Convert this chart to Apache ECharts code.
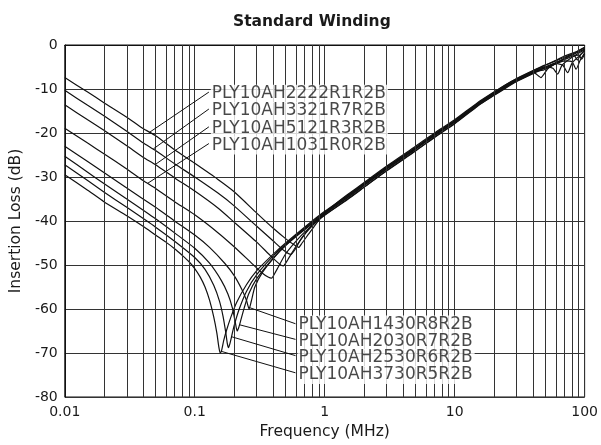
<!DOCTYPE html>
<html>
<head>
<meta charset="utf-8">
<script src="https://cdn.jsdelivr.net/npm/echarts@6/dist/echarts.min.js"></script>
<style>
html,body{margin:0;padding:0;background:#fff;}
#chart{width:601px;height:445px;}
</style>
</head>
<body>
<div id="chart"></div>
<script>
// ---- Data (frequency in MHz, insertion loss in dB) ----
const xTickLabels = ['0.01', '0.1', '1', '10', '100'];
const decadeStarts = [0.01, 0.1, 1, 10];
const minorMultipliers = [2, 3, 4, 5, 6, 7, 8, 9];

const seriesNames = [
  'PLY10AH2222R1R2B', 'PLY10AH3321R7R2B', 'PLY10AH5121R3R2B', 'PLY10AH1031R0R2B',
  'PLY10AH1430R8R2B', 'PLY10AH2030R7R2B', 'PLY10AH2530R6R2B', 'PLY10AH3730R5R2B'
];

const c2222R1 = [[0.01,-7.4],[0.015,-10.7],[0.02,-13.1],[0.03,-16.4],[0.04,-19],[0.05,-20.6],[0.07,-23.8],[0.1,-26.9],[0.15,-30.5],[0.2,-33.3],[0.3,-38.2],[0.4,-41.6],[0.5,-44],[0.58,-45.4],[0.63,-46],[0.67,-45],[0.75,-43],[0.85,-40.8],[1,-38.2],[1.2,-36.2],[1.5,-34],[2,-31.3],[3,-27.5],[5,-23],[7,-20],[10,-17],[15,-13.1],[20,-10.7],[25,-8.9],[30,-7.6],[40,-5.8],[50,-4.5],[60,-3.6],[70,-2.8],[85,-1.7],[100,-0.6]];
const c3321R7 = [[0.01,-10.3],[0.015,-13.7],[0.02,-16.1],[0.03,-19.6],[0.04,-22.2],[0.05,-24],[0.07,-27],[0.1,-30],[0.15,-33.6],[0.2,-36.5],[0.3,-41.2],[0.4,-44.5],[0.48,-46.6],[0.55,-47.6],[0.59,-46.5],[0.66,-44],[0.8,-40.9],[1,-38.1],[1.2,-36.4],[1.5,-34.2],[2,-31.6],[3,-27.8],[5,-23.3],[7,-20.3],[10,-17.3],[15,-13.4],[20,-11],[25,-9.2],[30,-7.9],[40,-6.1],[46,-7.4],[52,-5.4],[60,-4.2],[70,-3.1],[85,-1.9],[100,-0.9]];
const c5121R3 = [[0.01,-13.6],[0.015,-17],[0.02,-19.4],[0.03,-22.9],[0.04,-25.5],[0.05,-27.2],[0.07,-30.2],[0.1,-33.2],[0.15,-37],[0.2,-40.2],[0.3,-44.8],[0.38,-47.8],[0.45,-49.8],[0.48,-50.2],[0.52,-48.8],[0.6,-45.8],[0.75,-42],[1,-38.4],[1.5,-34.6],[2,-31.9],[3,-28.1],[5,-23.6],[7,-20.5],[10,-17.5],[15,-13.6],[20,-11.2],[25,-9.4],[30,-8.1],[40,-6.3],[50,-5],[60,-4.2],[68,-4.6],[74,-6.3],[80,-4.1],[90,-2.6],[100,-1.3]];
const c1031R0 = [[0.01,-18.9],[0.015,-22.3],[0.02,-24.7],[0.03,-28.2],[0.04,-30.8],[0.05,-32.6],[0.07,-35.6],[0.1,-38.6],[0.15,-42.6],[0.2,-45.8],[0.27,-49.4],[0.33,-51.8],[0.37,-52.8],[0.39,-53],[0.42,-51.5],[0.5,-47.5],[0.65,-43.5],[0.8,-41],[1,-38.7],[1.5,-35.1],[2,-32.4],[3,-28.6],[5,-24.1],[7,-21],[10,-17.9],[15,-13.9],[20,-11.5],[25,-9.7],[30,-8.3],[40,-6.5],[50,-5.2],[60,-4.3],[70,-3.6],[80,-3.8],[86,-5.5],[92,-3.6],[100,-1.8]];
const c1430R8 = [[0.01,-23],[0.015,-26.5],[0.02,-29],[0.03,-32.5],[0.05,-36.9],[0.07,-40],[0.1,-43.2],[0.13,-46],[0.17,-49.6],[0.2,-52.3],[0.23,-55.5],[0.25,-58],[0.262,-60],[0.272,-58.3],[0.29,-55],[0.33,-51.8],[0.4,-48.6],[0.5,-45.6],[0.7,-42],[1,-38.6],[1.5,-35],[2,-32.3],[3,-28.5],[5,-24],[7,-20.9],[10,-17.8],[15,-13.8],[20,-11.4],[25,-9.6],[30,-8.2],[40,-6.4],[50,-5],[60,-4],[70,-3.3],[80,-2.6],[90,-2.3],[95,-3.2],[100,-2]];
const c2030R7 = [[0.01,-25.3],[0.015,-28.9],[0.02,-31.5],[0.03,-35],[0.05,-39.5],[0.07,-42.7],[0.1,-46.2],[0.13,-49.6],[0.16,-53.5],[0.18,-56.6],[0.195,-59.8],[0.205,-63],[0.212,-65],[0.218,-64.2],[0.225,-62.8],[0.24,-59.8],[0.26,-56.6],[0.3,-53.1],[0.4,-48.5],[0.5,-45.5],[0.7,-41.8],[1,-38.3],[1.5,-34.7],[2,-32],[3,-28.2],[5,-23.7],[7,-20.6],[10,-17.5],[15,-13.6],[20,-11.1],[25,-9.3],[30,-8],[40,-6.1],[50,-4.9],[57,-5.3],[62,-6.6],[67,-4.6],[80,-2.8],[100,-1]];
const c2530R6 = [[0.01,-27.2],[0.015,-30.8],[0.02,-33.4],[0.03,-36.9],[0.05,-41.4],[0.07,-44.6],[0.1,-48.3],[0.12,-51],[0.14,-54.6],[0.155,-58.2],[0.165,-61.6],[0.173,-65.2],[0.178,-67.8],[0.182,-68.8],[0.186,-68],[0.192,-66.3],[0.2,-64],[0.22,-60],[0.25,-56],[0.3,-52.2],[0.4,-48],[0.5,-45.3],[0.7,-41.6],[1,-38],[1.5,-34.4],[2,-31.7],[3,-27.9],[5,-23.5],[7,-20.4],[10,-17.3],[15,-13.4],[20,-11],[25,-9.2],[30,-7.9],[40,-6.1],[48,-5.7],[55,-4.8],[70,-3],[82,-2.2],[88,-3.4],[93,-2.2],[100,-1.1]];
const c3730R5 = [[0.01,-29.5],[0.015,-33],[0.02,-35.6],[0.03,-38.8],[0.04,-41.2],[0.05,-43.2],[0.06,-44.8],[0.07,-46.3],[0.08,-47.8],[0.09,-49.2],[0.1,-50.8],[0.11,-52.7],[0.12,-55],[0.13,-58],[0.14,-61.8],[0.148,-65.5],[0.153,-68.5],[0.157,-70],[0.161,-69.4],[0.167,-67.2],[0.175,-65],[0.19,-61.8],[0.21,-58.5],[0.25,-54.5],[0.3,-51.3],[0.4,-47.6],[0.5,-45],[0.7,-41.4],[1,-37.8],[1.5,-34.2],[2,-31.5],[3,-27.7],[5,-23.3],[7,-20.2],[10,-17.2],[15,-13.3],[20,-10.8],[25,-9],[30,-7.7],[40,-5.9],[50,-4.6],[60,-3.5],[70,-2.5],[85,-1.6],[100,-0.5]];

const curveData = [c2222R1, c3321R7, c5121R3, c1031R0, c1430R8, c2030R7, c2530R6, c3730R5];

// Annotation anchors (data coordinates): label text position, leader start, leader end on curve
const labelAnchors = [[0.133,-11.1],[0.133,-15.0],[0.133,-19.05],[0.133,-22.85],
                      [0.618,-63.55],[0.618,-67.4],[0.618,-71.15],[0.618,-75.0]];
const leaderStarts = [[0.1285,-10.7],[0.1285,-14.55],[0.1285,-18.6],[0.1285,-22.4],
                      [0.596,-63.35],[0.596,-66.9],[0.596,-70.6],[0.596,-74.5]];
const leaderEnds   = [[0.0446,-19.9],[0.0481,-23.6],[0.0495,-27.2],[0.0436,-31.4],
                      [0.259,-59.6],[0.222,-63.6],[0.192,-66.3],[0.159,-69.6]];

// ---- Chart ----
const FONT = 'DejaVu Sans';
const minorLines = [];
decadeStarts.forEach(function (d) {
  minorMultipliers.forEach(function (m) { minorLines.push({ xAxis: d * m }); });
});

const series = [];
series.push({
  type: 'line', data: [], z: 1, silent: true,
  markLine: {
    silent: true, symbol: ['none', 'none'], animation: false,
    label: { show: false },
    lineStyle: { color: '#333', width: 1, type: 'solid' },
    data: minorLines
  }
});
curveData.forEach(function (d, i) {
  series.push({
    name: seriesNames[i], type: 'line', data: d, z: 3,
    showSymbol: false, symbol: 'none',
    smooth: 0.2,
    lineStyle: { color: '#111', width: 1.2 },
    animation: false
  });
});
series.push({
  type: 'scatter', z: 5, symbolSize: 0, silent: true,
  data: labelAnchors.map(function (p, i) { return { value: p, name: seriesNames[i] }; }),
  label: {
    show: true, position: 'right', distance: 0, formatter: '{b}',
    fontFamily: FONT, fontSize: 17, color: '#1a1a1a',
    backgroundColor: '#fff', padding: [1, 2, 0, 1]
  },
  markLine: {
    silent: true, symbol: ['none', 'none'], animation: false,
    label: { show: false },
    lineStyle: { color: '#111', width: 1, type: 'solid' },
    data: leaderStarts.map(function (s, i) {
      return [{ coord: s }, { coord: leaderEnds[i] }];
    })
  },
  animation: false
});

const chart = echarts.init(document.getElementById('chart'), null, { renderer: 'canvas' });
chart.setOption({
  animation: false,
  backgroundColor: '#fff',
  textStyle: { fontFamily: FONT },
  title: {
    text: 'Standard Winding', left: 228, top: 9,
    textStyle: { fontFamily: FONT, fontSize: 15.5, fontWeight: 'bold', color: '#1a1a1a' }
  },
  grid: { left: 64, right: 15, top: 45, bottom: 48, show: true, borderColor: '#111', borderWidth: 1, backgroundColor: 'transparent' },
  xAxis: {
    type: 'log', logBase: 10, min: 0.01, max: 100,
    axisLine: { show: true, lineStyle: { color: '#111' } },
    axisTick: { show: false },
    axisLabel: {
      fontFamily: FONT, fontSize: 14, color: '#1a1a1a', margin: 8,
      formatter: function (v) {
        const k = Math.round(Math.log10(v)) + 2;
        return xTickLabels[k] !== undefined ? xTickLabels[k] : '';
      }
    },
    splitLine: { show: true, lineStyle: { color: '#333', width: 1 } },
    name: 'Frequency (MHz)', nameLocation: 'middle', nameGap: 26,
    nameTextStyle: { fontFamily: FONT, fontSize: 15.5, color: '#1a1a1a' }
  },
  yAxis: {
    type: 'value', min: -80, max: 0, interval: 10,
    axisLine: { show: true, lineStyle: { color: '#111' } },
    axisTick: { show: false },
    axisLabel: { fontFamily: FONT, fontSize: 14, color: '#1a1a1a', margin: 7 },
    splitLine: { show: true, lineStyle: { color: '#333', width: 1 } },
    name: 'Insertion Loss (dB)', nameLocation: 'middle', nameGap: 40,
    nameTextStyle: { fontFamily: FONT, fontSize: 15.5, color: '#1a1a1a' }
  },
  series: series
});
</script>
</body>
</html>
